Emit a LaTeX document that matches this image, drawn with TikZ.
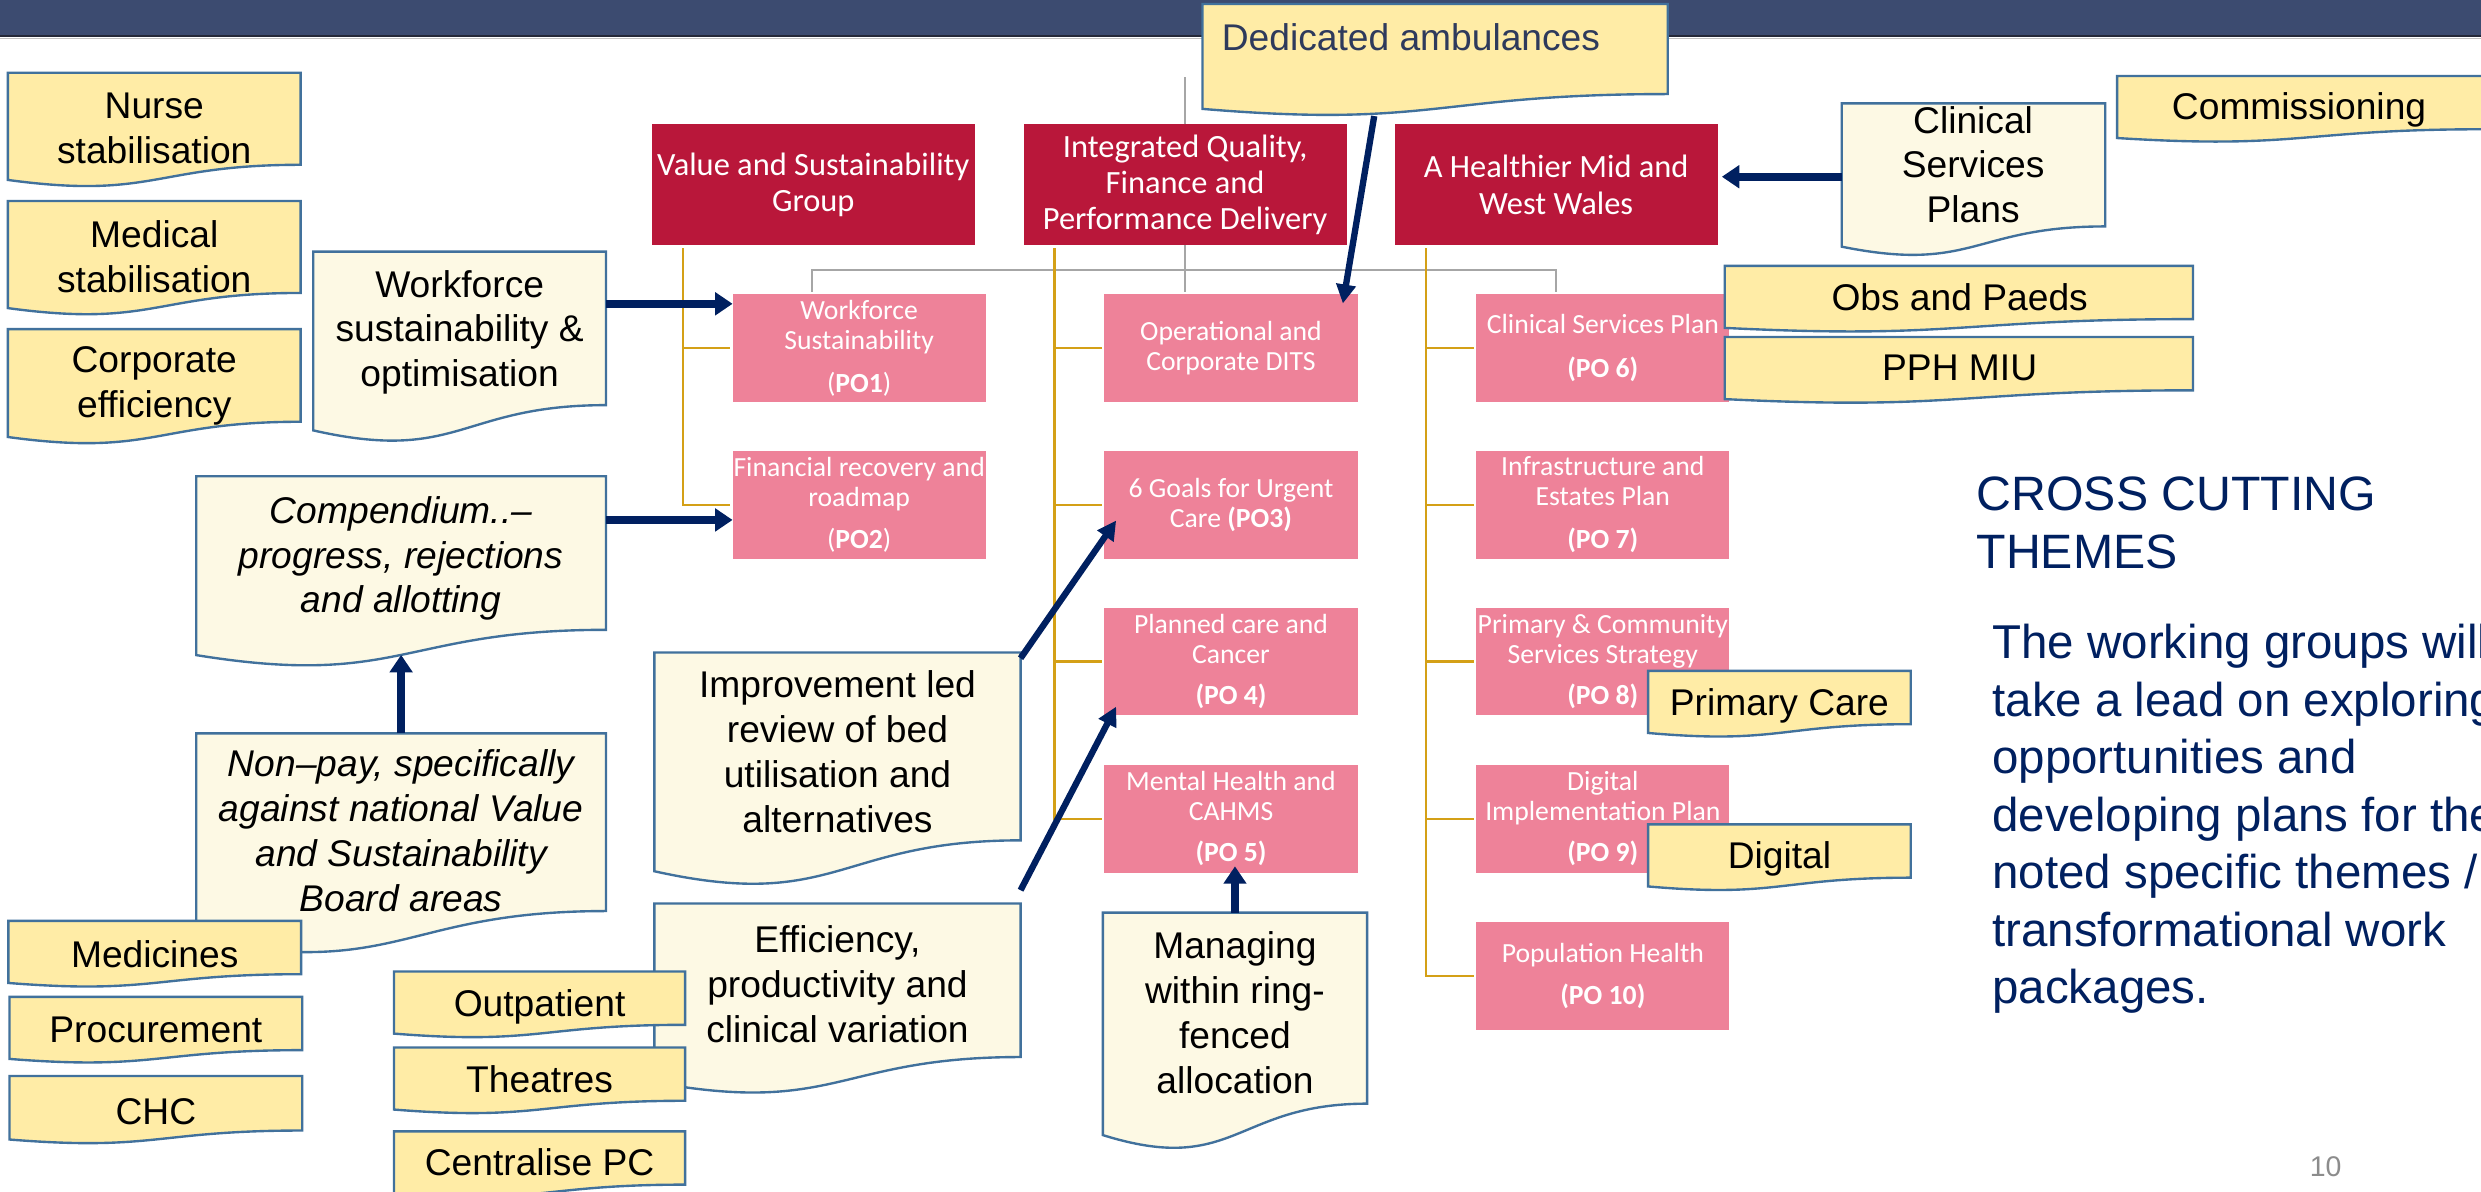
\documentclass[tikz,border=0pt]{standalone}
\usepackage{fontspec}
\setmainfont{Liberation Sans}
\newfontfamily\calib{Carlito}
\usetikzlibrary{arrows.meta,calc}
\definecolor{cBand}{RGB}{60,75,112}
\definecolor{cBandDark}{RGB}{36,40,56}
\definecolor{cNavy}{RGB}{0,32,96}
\definecolor{cCrimson}{RGB}{185,23,58}
\definecolor{cPink}{RGB}{238,130,153}
\definecolor{cGold}{RGB}{212,160,23}
\definecolor{cGrey}{RGB}{166,166,166}
\definecolor{cYel}{RGB}{255,236,166}
\definecolor{cCream}{RGB}{253,249,228}
\definecolor{cEdge}{RGB}{65,113,156}
\definecolor{cDed}{RGB}{46,58,92}
\definecolor{cPage}{RGB}{140,140,140}
\tikzset{
  sDocLine/.style={draw=cEdge, line width=1.5pt},
  sDocText/.style={font=\fontsize{23.5}{28.3}\selectfont, align=center, inner sep=0pt, text=black},
  sDocItal/.style={font=\fontsize{23.5}{28.3}\selectfont\itshape, align=center, inner sep=0pt, text=black},
  sDocOne/.style={font=\fontsize{23.5}{28.3}\selectfont, inner sep=0pt, text=black, anchor=base},
  sRed/.style={fill=cCrimson, text=white, font=\calib\fontsize{20.5}{23}\selectfont, align=center, inner sep=0pt, outer sep=0pt, minimum width=204, minimum height=76.4, anchor=north west},
  sPink/.style={fill=cPink, text=white, font=\calib\fontsize{17.5}{19}\selectfont, align=center, inner sep=0pt, outer sep=0pt, minimum width=160, minimum height=68, anchor=north west},
  sGold/.style={draw=cGold, line width=1.4pt},
  sGrey/.style={draw=cGrey, line width=1.4pt},
  sArrK/.style={draw=cNavy, line width=5pt, -{Triangle[length=11pt,width=14pt]}},
  sArrN/.style={draw=cNavy, line width=4pt, -{Triangle[length=12pt,width=12pt]}}
}
% name, x0, y0, w, h, fill
\newcommand\docbox[6]{%
  \filldraw[sDocLine, fill=#6] (#2,#3) -- ({#2+#4},#3) -- ({#2+#4},{#3+0.802*#5})
    .. controls ({#2+0.5*#4},{#3+0.802*#5}) and ({#2+0.5*#4},{#3+1.1075*#5}) .. (#2,{#3+0.934*#5}) -- cycle;
  \node[inner sep=0pt, outer sep=0pt, minimum width=#4, minimum height={0.933*#5}, anchor=north west] (#1) at (#2,#3) {};
}
\begin{document}
\begin{tikzpicture}[x=1pt,y=-1pt]
\useasboundingbox (0,0) rectangle (1568,753);
\clip (0,0) rectangle (1568,753);
\fill[white] (0,0) rectangle (1568,753);

% top band
\fill[cBand] (0,0) rectangle (1568,22.5);
\draw[cBandDark, line width=1.2pt] (0,23) -- (1568,23);
\draw[cGrey!70, line width=0.6pt] (0,24.2) -- (1568,24.2);

% header boxes
\node[sRed] (vsg) at (412,78.6) {Value and Sustainability\\Group};
\node[sRed] (iq) at (647,78.6) {Integrated Quality,\\Finance and\\Performance Delivery};
\node[sRed] (ah) at (881.5,78.6) {A Healthier Mid and\\West Wales};

% pink boxes
\node[sPink] (po1) at (463,186) {Workforce\\Sustainability\\[8.5pt](\textbf{PO1})};
\node[sPink] (ops) at (698,186) {Operational and\\Corporate DITS};
\node[sPink] (po6) at (933,186) {Clinical Services Plan\\[9pt]\textbf{(PO 6)}};
\node[sPink] (po2) at (463,285) {Financial recovery and\\roadmap\\[8pt](\textbf{PO2})};
\node[sPink] (po3) at (698,285) {6 Goals for Urgent\\Care \textbf{(PO3)}};
\node[sPink] (po7) at (933,285) {Infrastructure and\\Estates Plan\\[8pt]\textbf{(PO 7)}};
\node[sPink] (po4) at (698,384) {Planned care and\\Cancer\\[7pt]\textbf{(PO 4)}};
\node[sPink] (po8) at (933,384) {Primary \& Community\\Services Strategy\\[7pt]\textbf{(PO 8)}};
\node[sPink] (po5) at (698,483.5) {Mental Health and\\CAHMS\\[7pt]\textbf{(PO 5)}};
\node[sPink] (po9) at (933,483.5) {Digital\\Implementation Plan\\[7pt]\textbf{(PO 9)}};
\node[sPink] (po10) at (933,583) {Population Health\\[7.4pt]\textbf{(PO 10)}};

% grey connectors
\coordinate (gl) at ($(po1.north)+(-30,-1.5)$);
\coordinate (gr) at ($(po6.north)+(-29.5,-1.5)$);
\coordinate (gtop) at ($(iq.north)+(0,-30)$);
\draw[sGrey] (gl) -- ++(0,-14) -| (gr);
\draw[sGrey] (iq.south) -- ($(iq.south |- ops.north)+(0,-1.5)$);
\draw[sGrey] (iq.north) -- (gtop);

% gold connectors
\coordinate (g1) at ($(vsg.south west)+(19.6,2)$);
\coordinate (g2) at ($(iq.south west)+(19.5,2)$);
\coordinate (g3) at ($(ah.south west)+(19.5,2)$);
\draw[sGold, shorten >=1.5pt] (g1) |- (po2.west);
\draw[sGold, shorten >=1.5pt] (g1 |- po1.west) -- (po1.west);
\draw[sGold, shorten >=1.5pt] (g2) |- (po5.west);
\draw[sGold, shorten >=1.5pt] (g2 |- ops.west) -- (ops.west);
\draw[sGold, shorten >=1.5pt] (g2 |- po3.west) -- (po3.west);
\draw[sGold, shorten >=1.5pt] (g2 |- po4.west) -- (po4.west);
\draw[sGold, shorten >=1.5pt] (g3) |- (po10.west);
\draw[sGold, shorten >=1.5pt] (g3 |- po6.west) -- (po6.west);
\draw[sGold, shorten >=1.5pt] (g3 |- po7.west) -- (po7.west);
\draw[sGold, shorten >=1.5pt] (g3 |- po8.west) -- (po8.west);
\draw[sGold, shorten >=1.5pt] (g3 |- po9.west) -- (po9.west);

% document boxes
\docbox{nurse}{5}{46}{185}{72.5}{cYel}
\node[sDocText] (nurse-t) at (97.5,81) {Nurse\\stabilisation};
\docbox{medical}{5}{127}{185}{72.5}{cYel}
\node[sDocText] (medical-t) at (97.5,162) {Medical\\stabilisation};
\docbox{corp}{5}{208}{185}{73}{cYel}
\node[sDocText] (corp-t) at (97.5,244) {Corporate\\efficiency};
\docbox{wf}{198}{159}{185}{121}{cCream}
\node[sDocText] (wf-t) at (290.5,210) {Workforce\\sustainability \&\\optimisation};
\docbox{comp}{124}{301}{259}{121}{cCream}
\node[sDocItal] (comp-t) at (253.5,353) {Compendium..–\\progress, rejections\\and allotting};
\docbox{nonpay}{124}{463.5}{259}{140}{cCream}
\node[sDocItal] (nonpay-t) at (253.5,525) {Non–pay, specifically\\against national Value\\and Sustainability\\Board areas};
\docbox{medicines}{5.3}{582}{185}{42}{cYel}
\node[sDocOne] (medicines-t) at (97.8,611.7) {Medicines};
\docbox{procure}{6}{630}{185}{42}{cYel}
\node[sDocOne] (procure-t) at (98.5,659) {Procurement};
\docbox{chc}{6}{680}{185}{43}{cYel}
\node[sDocOne] (chc-t) at (98.5,710.6) {CHC};
\docbox{impr}{413.6}{412.4}{231.4}{148}{cCream}
\node[sDocText] (impr-t) at (529.3,475) {Improvement led\\review of bed\\utilisation and\\alternatives};
\docbox{eff}{413.6}{571}{231.4}{121}{cCream}
\node[sDocText] (eff-t) at (529.3,622) {Efficiency,\\productivity and\\clinical variation};
\docbox{outpt}{249}{614}{184}{42}{cYel}
\node[sDocOne] (outpt-t) at (341,642.7) {Outpatient};
\docbox{theatres}{249}{662}{184}{42}{cYel}
\node[sDocOne] (theatres-t) at (341,690.4) {Theatres};
\docbox{centpc}{249}{715}{184}{42}{cYel}
\node[sDocOne] (centpc-t) at (341,743) {Centralise PC};
\docbox{manage}{697}{576.8}{167}{150.5}{cCream}
\node[sDocText] (manage-t) at (780.5,640) {Managing\\within ring-\\fenced\\allocation};
\docbox{ded}{760}{2.5}{294}{71}{cYel}
\node[font=\fontsize{23.5}{28.3}\selectfont, inner sep=0pt, text=cDed, anchor=base west] (ded-t) at (772,31.6) {Dedicated ambulances};
\docbox{csp}{1164}{65.3}{166.5}{97}{cCream}
\node[sDocText] (csp-t) at (1247,104) {Clinical\\Services\\Plans};
\docbox{comm}{1338}{48}{232}{42}{cYel}
\node[sDocOne] (comm-t) at (1453,75.8) {Commissioning};
\docbox{obs}{1090}{168}{296}{42}{cYel}
\node[sDocOne] (obs-t) at (1238.5,196) {Obs and Paeds};
\docbox{pph}{1090}{213}{296}{42}{cYel}
\node[sDocOne] (pph-t) at (1238.5,240.6) {PPH MIU};
\docbox{primcare}{1041.6}{424}{166}{42}{cYel}
\node[sDocOne] (primcare-t) at (1124.6,452) {Primary Care};
\docbox{digital}{1041.6}{521}{166}{42}{cYel}
\node[sDocOne] (digital-t) at (1124.6,549) {Digital};

% arrows
\draw[sArrK] (wf.east |- 0,192) -- (po1.west |- 0,192);
\draw[sArrK] (comp.east |- 0,328.6) -- (po2.west |- 0,328.6);
\draw[sArrK] (nonpay.north) -- (comp.south);
\draw[sArrN] ($(impr.north east)+(0,3.6)$) -- ($(po3.west)+(7.4,10)$);
\draw[sArrN] ($(eff.north east)+(0,-8.4)$) -- ($(po4.west)+(7.4,28.6)$);
\draw[sArrK] (manage.north) -- ($(manage.north |- po5.south)+(0,-4)$);
\draw[sArrN] ($(ded.south)+(-38.5,4.6)$) -- ($(ops.north east)+(-9.3,5.8)$);
\draw[sArrK, shorten >=2.7pt] (csp.west |- 0,111.7) -- (ah.east |- 0,111.7);

% right-hand text
\node[anchor=west, text=cNavy, font=\fontsize{30.5}{36.4}\selectfont, align=left, inner sep=0pt] (cct) at (1249,330.5) {CROSS CUTTING\\THEMES};
\node[anchor=west, text=cNavy, font=\fontsize{30}{36.3}\selectfont, align=left, inner sep=0pt] (para) at (1259,517.6) {The working groups will\\take a lead on exploring\\opportunities and\\developing plans for the\\noted specific themes /\\transformational work\\packages.};
\node[anchor=base west, text=cPage, font=\fontsize{18}{20}\selectfont, inner sep=0pt] (pnum) at (1459.6,743.3) {10};
\end{tikzpicture}
\end{document}
